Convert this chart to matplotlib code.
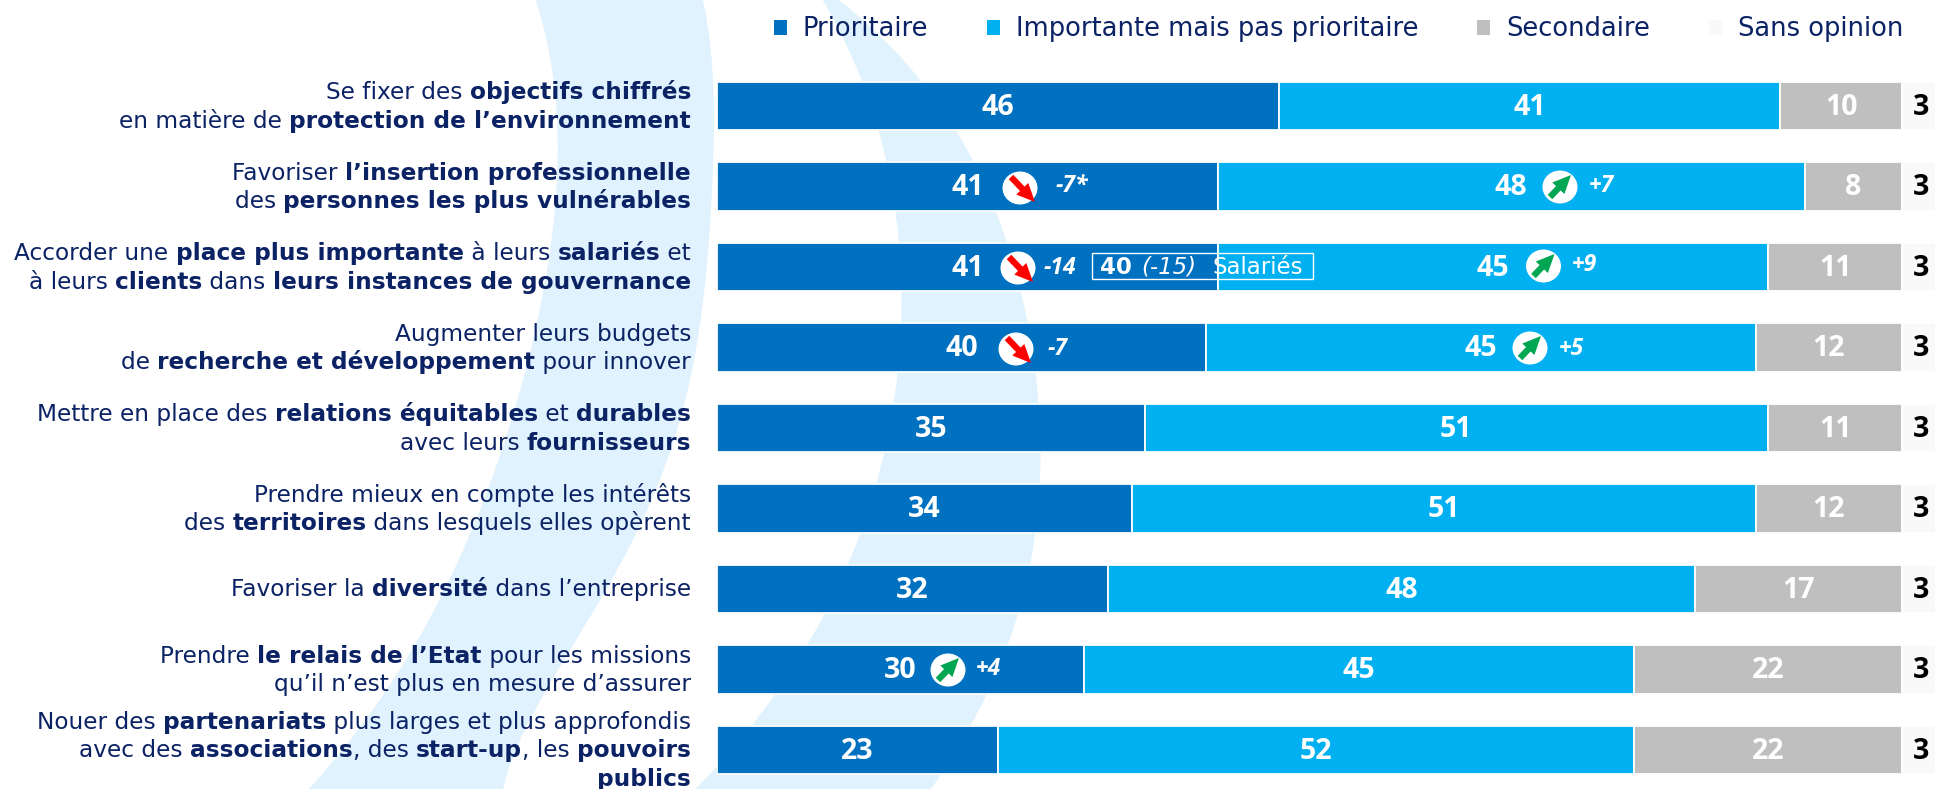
import numpy as np
import matplotlib
matplotlib.use("Agg")
import matplotlib.pyplot as plt
from matplotlib.patches import Ellipse, FancyArrowPatch, Polygon, Rectangle

# ---------- data ----------
row_labels = [
    ["Se fixer des **objectifs chiffrés**", "en matière de **protection de l’environnement**"],
    ["Favoriser **l’insertion professionnelle**", "des **personnes les plus vulnérables**"],
    ["Accorder une **place plus importante** à leurs **salariés** et", "à leurs **clients** dans **leurs instances de gouvernance**"],
    ["Augmenter leurs budgets", "de **recherche et développement** pour innover"],
    ["Mettre en place des **relations équitables** et **durables**", "avec leurs **fournisseurs**"],
    ["Prendre mieux en compte les intérêts", "des **territoires** dans lesquels elles opèrent"],
    ["Favoriser la **diversité** dans l’entreprise"],
    ["Prendre **le relais de l’Etat** pour les missions", "qu’il n’est plus en mesure d’assurer"],
    ["Nouer des **partenariats** plus larges et plus approfondis", "avec des **associations**, des **start-up**, les **pouvoirs**", "**publics**"],
]
series_names = ["Prioritaire", "Importante mais pas prioritaire", "Secondaire", "Sans opinion"]
prioritaire = [46, 41, 41, 40, 35, 34, 32, 30, 23]
importante = [41, 48, 45, 45, 51, 51, 48, 45, 52]
secondaire = [10, 8, 11, 12, 11, 12, 17, 22, 22]
sans_opinion = [3, 3, 3, 3, 3, 3, 3, 3, 3]

# trend marks: row, delta text
trend_down_text = ["-7*", "-14", "-7"]
trend_up_text = ["+7", "+9", "+5", "+4"]
note_bold, note_italic, note_plain = "40", "(-15)", "Salariés"

# ---------- styles / layout ----------
W, H = 1935, 789
NAVY = "#0B2265"
COLORS = ["#0070C0", "#00B0F0", "#BFBFBF", "#F9F9F9"]
BAND = "#E0F2FD"
LABEL_FONT = "DejaVu Sans"
VALUE_FONT = "Open Sans"
PX_PER_UNIT = 12.22
BAR_LEFT = 717
ROW0, PITCH = 105.8, 80.5

fig = plt.figure(figsize=(W / 100, H / 100), dpi=100, facecolor="white")

# pixel-coordinates layers
bg = fig.add_axes([0, 0, 1, 1], zorder=0)
bg.set_xlim(0, W); bg.set_ylim(H, 0); bg.axis("off")

ax = fig.add_axes([BAR_LEFT / W, 0, 1 - BAR_LEFT / W, 1], zorder=1)
ax.patch.set_alpha(0)
ax.set_xlim(0, (W - BAR_LEFT) / PX_PER_UNIT)
ax.set_ylim((H - ROW0) / PITCH, -ROW0 / PITCH)
ax.axis("off")

top = fig.add_axes([0, 0, 1, 1], zorder=2)
top.set_xlim(0, W); top.set_ylim(H, 0); top.axis("off"); top.patch.set_alpha(0)


def band(left_pts, right_pts, deg=5):
    lp, rp = np.array(left_pts, float), np.array(right_pts, float)
    yl = np.linspace(lp[:, 1].min(), lp[:, 1].max(), 200)
    yr = np.linspace(rp[:, 1].min(), rp[:, 1].max(), 200)
    xl = np.polyval(np.polyfit(lp[:, 1], lp[:, 0], deg), yl)
    xr = np.polyval(np.polyfit(rp[:, 1], rp[:, 0], deg), yr)
    pts = np.r_[np.c_[xl, yl], np.c_[xr, yr][::-1]]
    bg.add_patch(Polygon(pts, closed=True, fc=BAND, ec="none"))


band([(536, 0), (548, 50), (555, 117), (559, 167), (555, 233), (539, 300), (520, 389),
      (462, 555), (363, 722), (309, 789)],
     [(703, 0), (713, 100), (713, 167), (708, 267), (689, 380), (628, 547), (576, 647),
      (530, 713), (504, 789)])
band([(823, 0), (860, 80), (880, 133), (899, 233), (895, 380), (878, 480), (849, 563),
      (806, 647), (750, 727), (696, 789)],
     [(838, 0), (923, 80), (956, 130), (971, 163), (1006, 242), (1029, 323), (1039, 400),
      (1040, 453), (1033, 563), (1015, 613), (1005, 647), (987, 697), (946, 777), (925, 789)])

# ---------- bars ----------
rows = np.arange(len(prioritaire))
left = np.zeros(len(rows))
containers = []
for name, vals, c in zip(series_names, [prioritaire, importante, secondaire, sans_opinion], COLORS):
    bars = ax.barh(rows, vals, left=left, height=48.5 / PITCH, color=c,
                   edgecolor="white", linewidth=1.3, label=name)
    containers.append(bars)
    tc = "black" if name == "Sans opinion" else "white"
    for r, v, l in zip(rows, vals, left):
        ax.text(l + v / 2, r + 0.02, str(v), ha="center", va="center", color=tc,
                fontfamily=VALUE_FONT, fontweight="bold", fontsize=20.5)
    left = left + np.array(vals)

# ---------- legend ----------
fig.legend(handles=[b.patches[0] for b in containers], labels=series_names, ncol=4,
           loc="upper left", bbox_to_anchor=(774 / W, 1 - 16.5 / H), frameon=False,
           prop={"family": LABEL_FONT, "size": 18.55}, labelcolor=NAVY,
           handlelength=0.5, handleheight=0.5, handletextpad=0.62,
           columnspacing=2.28, borderpad=0, borderaxespad=0)
leg = fig.legends[0]
for h in leg.legend_handles:
    h.set_linewidth(0)

# ---------- row labels (mixed regular / bold, right aligned) ----------
fig.canvas.draw()
rend = fig.canvas.get_renderer()
LABEL_SIZE = 16.75
LINE = 28.5


def run_width(s, weight):
    def w(t):
        tx = bg.text(0, 0, t, fontsize=LABEL_SIZE, fontfamily=LABEL_FONT, fontweight=weight)
        e = tx.get_window_extent(rend).width
        tx.remove()
        return e
    return w("|" + s + "|") - w("||")


for r, lines in enumerate(row_labels):
    yc = ROW0 + r * PITCH
    n = len(lines)
    for i, line in enumerate(lines):
        y = yc + (i - (n - 1) / 2) * LINE + 7.5
        parts = line.split("**")
        x = 691
        for j in range(len(parts) - 1, -1, -1):
            s = parts[j]
            if not s:
                continue
            weight = "bold" if j % 2 else "normal"
            x -= run_width(s, weight)
            bg.text(x, y, s, ha="left", va="baseline", color=NAVY, fontsize=LABEL_SIZE,
                    fontfamily=LABEL_FONT, fontweight=weight)

# ---------- trend marks ----------
down_pos = [(1020, 188), (1018, 268), (1016, 349)]
down_txt = [(1056, 186), (1044, 268), (1048, 349)]
up_pos = [(1560, 187), (1543.5, 266), (1530, 348), (948, 670)]
up_txt = [(1589, 186), (1572, 265), (1559, 349), (976, 669)]


def mark(pos, direction, col):
    x, y = pos
    top.add_patch(Ellipse((x, y), 35, 33, fc="white", ec="none"))
    if direction == "down":
        a, b = (x - 9, y - 11), (x + 15, y + 14)
    else:
        a, b = (x - 10, y + 10), (x + 11, y - 12)
    top.add_patch(FancyArrowPatch(a, b, arrowstyle="simple,head_width=1.0,tail_width=0.38,head_length=1.1",
                                  mutation_scale=12, color=col, lw=0, shrinkA=0, shrinkB=0))


for p, t, s in zip(down_pos, down_txt, trend_down_text):
    mark(p, "down", "#FF0000")
    top.text(t[0], t[1], s, ha="left", va="center", color="white", fontfamily=VALUE_FONT,
             fontweight="bold", fontstyle="italic", fontsize=16.5)
for p, t, s in zip(up_pos, up_txt, trend_up_text):
    mark(p, "up", "#00A651")
    top.text(t[0], t[1], s, ha="left", va="center", color="white", fontfamily=VALUE_FONT,
             fontweight="bold", fontstyle="italic", fontsize=16.5)

# ---------- boxed note ----------
top.add_patch(Rectangle((1092, 253), 221, 26, fc="none", ec="white", lw=1))
yb = 273.5
top.text(1100, yb, note_bold, color="white", fontfamily=LABEL_FONT, fontweight="bold", fontsize=16.5, va="baseline")
top.text(1141, yb, note_italic, color="white", fontfamily=LABEL_FONT, fontstyle="italic", fontsize=16.5, va="baseline")
top.text(1212, yb, note_plain, color="white", fontfamily=LABEL_FONT, fontsize=16.5, va="baseline")

fig.savefig("out.png", dpi=100)
